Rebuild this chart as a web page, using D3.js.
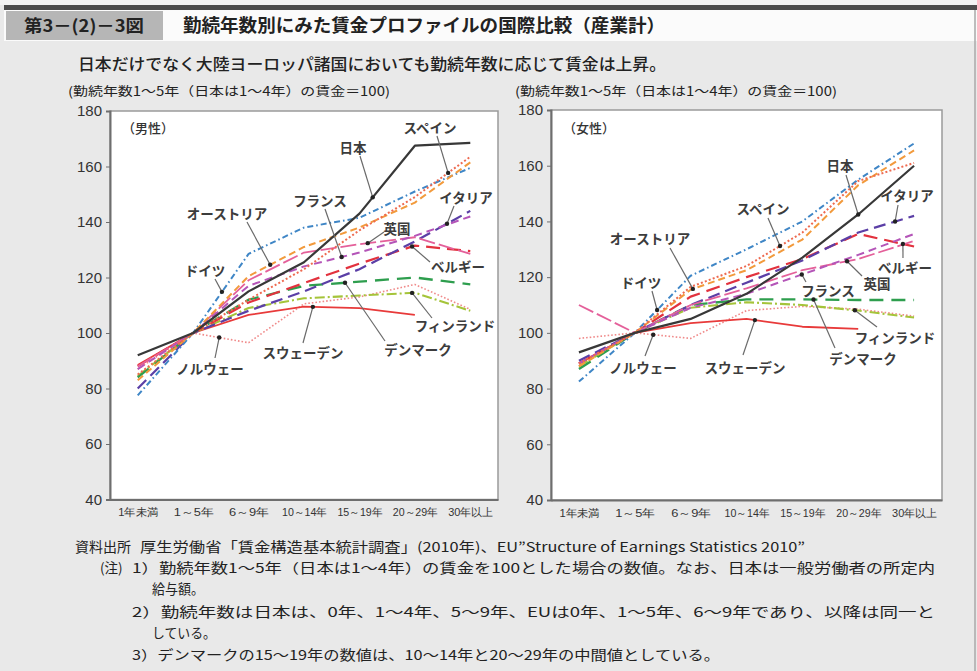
<!DOCTYPE html>
<html><head><meta charset="utf-8">
<script src="https://cdn.jsdelivr.net/npm/d3@7"></script>
<style>
html,body{margin:0;padding:0;background:#e9e9e9;}
svg{display:block;font-family:"Noto Sans CJK JP","Noto Sans",sans-serif;}
</style></head>
<body>
<svg id="c" width="977" height="671"></svg>
<script>
// ---------- data ----------
const categories = ["1年未満","1～5年","6～9年","10～14年","15～19年","20～29年","30年以上"];
const yTicks = [40,60,80,100,120,140,160,180];
const countries = ["日本","スペイン","オーストリア","ドイツ","フランス","英国","イタリア","ベルギー","デンマーク","フィンランド","スウェーデン","ノルウェー"];

// male (男性)
const maleJapan   = [92,100,115,125.5,143,167.5,168.5];
const maleSpain   = [85,100,112,123,137,149,163.5];
const maleAustria = [83,100,120.5,131,138,147,161.5];
const maleGermany = [77.5,100,128.5,138,141.5,151,159.5];
const maleFrance  = [87,100,117,124,129,135,142];
const maleUK      = [88,100,119,129,132,134.5,128.5];
const maleItaly   = [80,100,108,115,123,133,144];
const maleBelgium = [88,100,111,118,125,131.5,129.5];
const maleDenmark = [84,100,112,117,118.5,120,117.5];
const maleFinland = [84.5,100,109,112.5,113.5,114.5,108];
const maleSweden  = [88.5,100,106.5,109.5,109,106.5,null];
const maleNorway  = [87,100,96.5,110.5,113,117.5,108.5];

// female (女性)
const femaleJapan   = [93,100,105,114,127,142.5,160];
const femaleSpain   = [89,100,116.5,124,136,154.5,161];
const femaleAustria = [88,100,115.5,122.5,133.5,153,165.5];
const femaleGermany = [82.5,100,120.5,130,140,155,168];
const femaleFrance  = [89,100,109,114,121,128,135.5];
const femaleUK      = [110,100,110,116,122.5,126.5,133];
const femaleItaly   = [90,100,110,118,126,136,142];
const femaleBelgium = [89,100,113,120,126.5,135.5,131];
const femaleDenmark = [87,100,110,112,112,111.8,111.8];
const femaleFinland = [88,100,109,111,110,108,105.5];
const femaleSweden  = [89,100,103.5,105,102.2,101.4,null];
const femaleNorway  = [98,100,98,108,109.5,108.5,106];

const maleSeries = [maleJapan,maleSpain,maleAustria,maleGermany,maleFrance,maleUK,maleItaly,maleBelgium,maleDenmark,maleFinland,maleSweden,maleNorway];
const femaleSeries = [femaleJapan,femaleSpain,femaleAustria,femaleGermany,femaleFrance,femaleUK,femaleItaly,femaleBelgium,femaleDenmark,femaleFinland,femaleSweden,femaleNorway];

// label anchor: position along the category axis (fractional index) on that country's line
const maleTipAt   = [4.24,5.6,2.39,1.52,3.68,4.15,5.58,4.95,3.74,4.95,3.16,1.47];
const femaleTipAt = [5.0,3.6,2.04,1.4,3.99,4.8,5.66,5.8,4.2,4.94,3.15,1.33];

// ---------- styles ----------
const styles = {
  "日本":        {c:"#383838", d:null, w:2.2},
  "スペイン":    {c:"#ee6a50", d:"2,2.2", w:2},
  "オーストリア":{c:"#f29a3c", d:"7,4", w:2},
  "ドイツ":      {c:"#3f86c6", d:"6,3,1.6,3", w:2},
  "フランス":    {c:"#b455b8", d:"8,5", w:2},
  "英国":        {c:"#e4609a", d:"16,4", w:1.8},
  "イタリア":    {c:"#5b3fa6", d:"12,6", w:2.2},
  "ベルギー":    {c:"#e2323e", d:"14,7", w:2.2},
  "デンマーク":  {c:"#2e9e4e", d:"14,8", w:2.3},
  "フィンランド":{c:"#a5c43a", d:"10,3,2,3", w:2.1},
  "スウェーデン":{c:"#e83a3a", d:null, w:1.8},
  "ノルウェー":  {c:"#f08a8a", d:"1.6,2", w:1.6}
};

const svg = d3.select("#c");

// ---------- header ----------
svg.append("rect").attr("x",0).attr("y",0).attr("width",977).attr("height",5).attr("fill","#f4f4f4");
svg.append("rect").attr("x",4).attr("y",5).attr("width",973).attr("height",5).attr("fill","#4d4d4d");
svg.append("rect").attr("x",4).attr("y",10).attr("width",973).attr("height",31).attr("fill","#fbfbfb");
svg.append("rect").attr("x",6).attr("y",11).attr("width",157).attr("height",29).attr("fill","#b6b6b6");
svg.append("line").attr("x1",975).attr("x2",975).attr("y1",10).attr("y2",671).attr("stroke","#a8a8a8").attr("stroke-width",1.5);
svg.append("text").attr("x",84).attr("y",32).attr("text-anchor","middle").attr("font-size",17).attr("font-weight","bold").attr("fill","#222")
  .attr("textLength",120).attr("lengthAdjust","spacingAndGlyphs").text("第3－(2)－3図");
svg.append("text").attr("x",183).attr("y",32).attr("font-size",18).attr("font-weight","bold").attr("fill","#222")
  .attr("textLength",482).attr("lengthAdjust","spacingAndGlyphs").text("勤続年数別にみた賃金プロファイルの国際比較（産業計）");
svg.append("text").attr("x",78).attr("y",70).attr("font-size",16).attr("font-weight",500).attr("fill","#222")
  .attr("textLength",588).attr("lengthAdjust","spacingAndGlyphs").text("日本だけでなく大陸ヨーロッパ諸国においても勤続年数に応じて賃金は上昇。");

// ---------- panels ----------
function panel(opt){
  const g = svg.append("g");
  const x = d3.scalePoint().domain(categories).range([opt.x0,opt.x1]).padding(0.5);
  const y = d3.scaleLinear().domain([40,180]).range([opt.y1,opt.y0]);
  const step = x.step();

  g.append("text").attr("x",opt.capX).attr("y",96).attr("font-size",12.5).attr("fill","#222")
    .attr("textLength",322).attr("lengthAdjust","spacingAndGlyphs")
    .text("(勤続年数1～5年（日本は1～4年）の賃金＝100)");

  g.append("rect").attr("x",opt.x0).attr("y",opt.y0).attr("width",opt.x1-opt.x0).attr("height",opt.y1-opt.y0)
    .attr("fill","#fff").attr("stroke","#9a9a9a").attr("stroke-width",1.5);

  const ya = g.append("g").attr("transform",`translate(${opt.x0},0)`)
    .call(d3.axisLeft(y).tickValues(yTicks).tickSize(4).tickPadding(4));
  ya.select(".domain").attr("stroke","#6e6e6e").attr("stroke-width",2);
  ya.selectAll(".tick line").attr("stroke","#6e6e6e");
  ya.selectAll(".tick text").attr("font-size",15).attr("fill","#333").attr("font-family","'Liberation Sans',Arial,sans-serif");

  const xa = g.append("g").attr("transform",`translate(0,${opt.y1})`)
    .call(d3.axisBottom(x).tickSize(0).tickPadding(9));
  xa.select(".domain").attr("stroke","#6e6e6e").attr("stroke-width",2);
  xa.selectAll(".tick text").attr("font-size",11).attr("fill","#333")
    .attr("textLength", d => d.length>=5 ? 45 : (d.length==4 ? 40 : 34)).attr("lengthAdjust","spacingAndGlyphs");

  // lines (reverse order so Japan is drawn on top)
  const line = d3.line().defined(d => d != null).x((d,j)=>x(categories[j])).y(d=>y(d));
  countries.map((c,i)=>i).reverse().forEach(i => {
    const s = styles[countries[i]];
    g.append("path").datum(opt.series[i]).attr("d", line)
      .attr("fill","none").attr("stroke",s.c).attr("stroke-width",s.w)
      .attr("stroke-dasharray",s.d).attr("stroke-linejoin","round");
  });

  // panel title
  g.append("text").attr("x",opt.x0+12).attr("y",133).attr("font-size",13).attr("fill","#333").attr("font-weight",500).text(opt.title);

  // annotations
  function valAt(arr,t){
    const i = Math.min(Math.floor(t), arr.length-2);
    const f = t - i;
    const a = arr[i], b = arr[i+1] == null ? a : arr[i+1];
    return a + (b-a)*f;
  }
  countries.forEach((name,i)=>{
    const t = opt.tipAt[i];
    const tx = x(categories[0]) + t*step;
    const ty = y(valAt(opt.series[i],t));
    const L = opt.labels[i];
    g.append("line").attr("x1",L.sx).attr("y1",L.sy).attr("x2",tx).attr("y2",ty)
      .attr("stroke","#6a6a6a").attr("stroke-width",1.2);
    g.append("circle").attr("cx",tx).attr("cy",ty).attr("r",2.2).attr("fill","#222");
    g.append("text").attr("x",L.lx).attr("y",L.ly).attr("text-anchor","middle").attr("dominant-baseline","central")
      .attr("font-size",13.5).attr("font-weight","bold").attr("fill","#3c3c3c").text(name);
  });
}

panel({x0:110,x1:498,y0:111,y1:499.5,capX:68,title:"（男性）",series:maleSeries,tipAt:maleTipAt,
  labels:[
    {lx:353,ly:147,sx:360,sy:156},   // 日本
    {lx:430,ly:127,sx:437,sy:136},   // スペイン
    {lx:227,ly:213,sx:247,sy:222},   // オーストリア
    {lx:205,ly:270,sx:215,sy:279},   // ドイツ
    {lx:320,ly:200,sx:325,sy:209},   // フランス
    {lx:397,ly:228,sx:384,sy:232},   // 英国
    {lx:466,ly:197,sx:454,sy:206},   // イタリア
    {lx:458,ly:266,sx:430,sy:262},   // ベルギー
    {lx:418,ly:349,sx:385,sy:341},   // デンマーク
    {lx:455,ly:325,sx:432,sy:318},   // フィンランド
    {lx:303,ly:352,sx:303,sy:343},   // スウェーデン
    {lx:210,ly:368,sx:215,sy:358}    // ノルウェー
  ]});

panel({x0:551,x1:942,y0:110,y1:500,capX:515,title:"（女性）",series:femaleSeries,tipAt:femaleTipAt,
  labels:[
    {lx:840,ly:165,sx:846,sy:175},   // 日本
    {lx:763,ly:208,sx:768,sy:218},   // スペイン
    {lx:650,ly:238,sx:670,sy:248},   // オーストリア
    {lx:641,ly:282,sx:652,sy:291},   // ドイツ
    {lx:828,ly:290,sx:806,sy:282},   // フランス
    {lx:877,ly:283,sx:862,sy:276},   // 英国
    {lx:907,ly:195,sx:898,sy:205},   // イタリア
    {lx:905,ly:267,sx:903,sy:258},   // ベルギー
    {lx:863,ly:358,sx:835,sy:348},   // デンマーク
    {lx:895,ly:337,sx:877,sy:327},   // フィンランド
    {lx:745,ly:367,sx:743,sy:355},   // スウェーデン
    {lx:643,ly:367,sx:645,sy:356}    // ノルウェー
  ]});

// ---------- footer ----------
const foot = [
  {x:75,  y:552, w:56,  t:"資料出所"},
  {x:140, y:552, w:665, t:"厚生労働省「賃金構造基本統計調査」(2010年)、EU\u201DStructure of Earnings Statistics 2010\u201D"},
  {x:100, y:573, w:null,t:"(注)"},
  {x:132, y:573, w:803, t:"1）勤続年数1～5年（日本は1～4年）の賃金を100とした場合の数値。なお、日本は一般労働者の所定内"},
  {x:152, y:594, w:52,  t:"給与額。"},
  {x:132, y:617, w:803, t:"2）勤続年数は日本は、0年、1～4年、5～9年、EUは0年、1～5年、6～9年であり、以降は同一と"},
  {x:152, y:638, w:64,  t:"している。"},
  {x:132, y:660, w:588, t:"3）デンマークの15～19年の数値は、10～14年と20～29年の中間値としている。"}
];
svg.append("g").selectAll("text").data(foot).join("text")
  .attr("x",d=>d.x).attr("y",d=>d.y).attr("font-size",13.5).attr("fill","#222")
  .attr("textLength",d=>d.w).attr("lengthAdjust",d=>d.w ? "spacingAndGlyphs" : null).text(d=>d.t);
</script>
</body></html>
